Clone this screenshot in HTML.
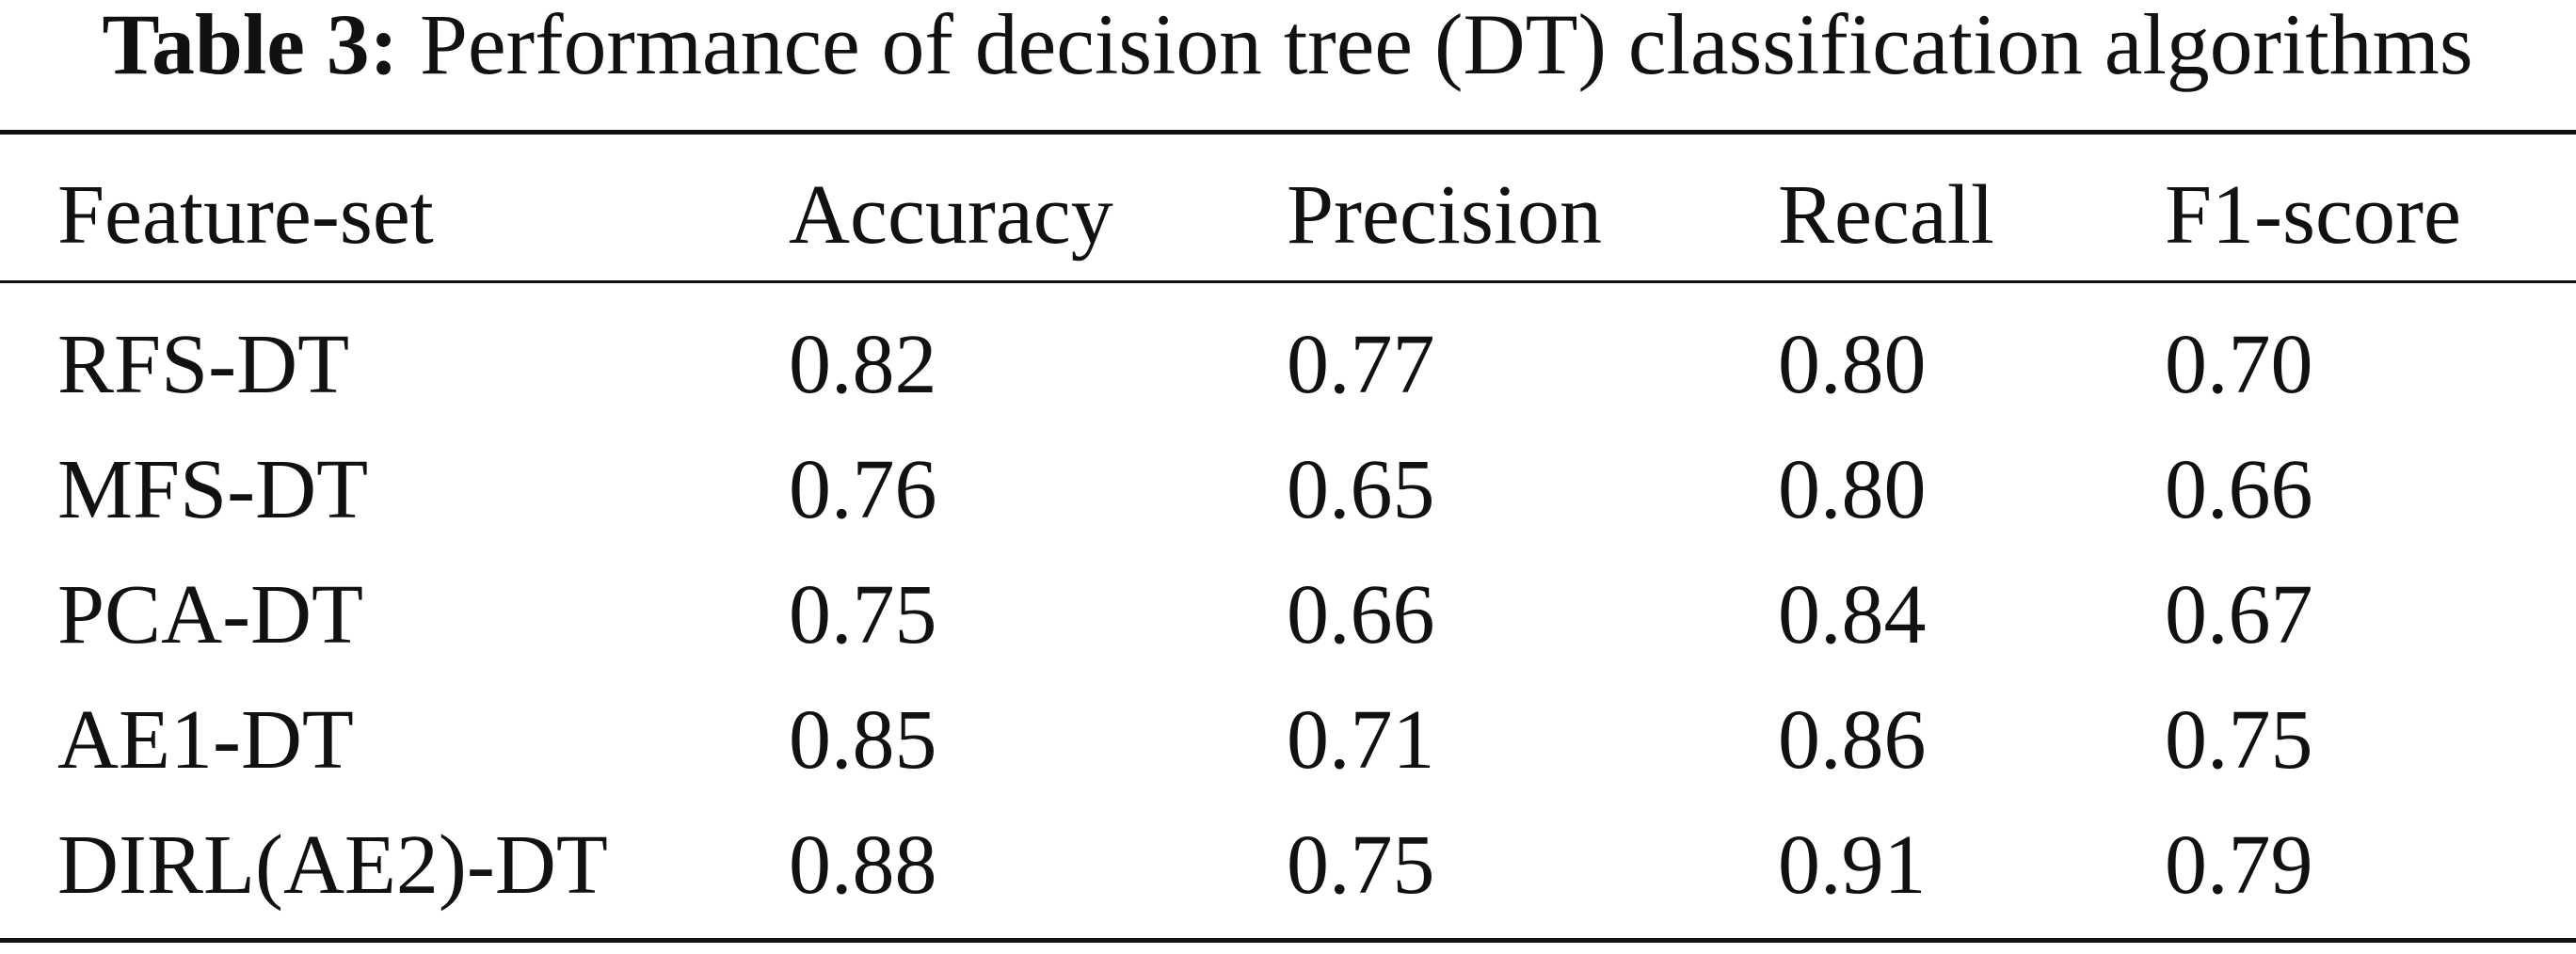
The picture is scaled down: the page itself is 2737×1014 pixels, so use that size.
<!DOCTYPE html>
<html><head><meta charset="utf-8"><style>
html,body{margin:0;padding:0;background:#fff;}
svg{display:block;}
text{font-family:"Liberation Serif",serif;fill:#111;}
</style></head><body>
<svg width="2737" height="1014" viewBox="0 0 2737 1014">
<text x="1368" y="78" text-anchor="middle" font-size="92" textLength="2519" lengthAdjust="spacingAndGlyphs"><tspan font-weight="bold">Table 3:</tspan>  Performance of decision tree (DT) classification algorithms</text>
<rect x="0" y="138" width="2737" height="5" fill="#111"/>
<rect x="0" y="298" width="2737" height="3" fill="#111"/>
<rect x="0" y="997" width="2737" height="5" fill="#111"/>
<g id="tbl"></g>
</svg>
<script>
const headers=["Feature-set","Accuracy","Precision","Recall","F1-score"];
const rowsNames=["RFS-DT","MFS-DT","PCA-DT","AE1-DT","DIRL(AE2)-DT"];
const accuracy=["0.82","0.76","0.75","0.85","0.88"];
const precision=["0.77","0.65","0.66","0.71","0.75"];
const recall=["0.80","0.80","0.84","0.86","0.91"];
const f1=["0.70","0.66","0.67","0.75","0.79"];
const colX=[61,838,1367,1889,2300];
const g=document.getElementById('tbl');
const NS="http://www.w3.org/2000/svg";
function addText(x,y,s,name){
  const t=document.createElementNS(NS,'text');
  t.setAttribute('x',x);t.setAttribute('y',y);t.setAttribute('font-size','90');
  t.textContent=s;
  
  
  g.appendChild(t);
}
headers.forEach((h,i)=>addText(colX[i],258,h,'header-'+h.toLowerCase()));
const cols=[rowsNames,accuracy,precision,recall,f1];
rowsNames.forEach((r,ri)=>{
  const y=417+ri*133;
  cols.forEach((c,ci)=>addText(colX[ci],y,c[ri],'cell-'+ri+'-'+ci));
});
</script>
</body></html>
